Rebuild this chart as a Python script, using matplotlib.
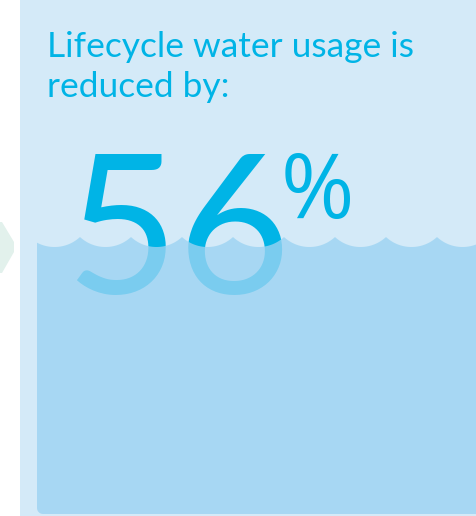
import numpy as np
import matplotlib
matplotlib.use("Agg")
import matplotlib.pyplot as plt
from matplotlib.patches import Polygon, Rectangle

# ---- data ----
title_lines = ["Lifecycle water usage is", "reduced by:"]
value = 56
value_suffix = "%"

# ---- style ----
W, H = 477, 516
bg_panel = "#d4eaf8"
water_col = "#9cd3f2"
water_alpha = 0.79
text_col = "#00b4e6"
arrow_col = "#e2f1ec"

fig = plt.figure(figsize=(W / 100, H / 100), dpi=100)
ax = fig.add_axes([0, 0, 1, 1])
ax.set_xlim(0, W)
ax.set_ylim(H, 0)
ax.axis("off")

# left decorative chevron
ax.add_patch(Polygon([[-10, 222], [2, 222], [14, 242], [14, 252], [2, 273], [-10, 273]],
                     closed=True, facecolor=arrow_col, edgecolor="none", zorder=1))
# panel
ax.add_patch(Rectangle((20, 0), W - 20, H, facecolor=bg_panel, edgecolor="none", zorder=1))

# title
for i, line in enumerate(title_lines):
    ax.text(47, 57 + 40 * i, line, fontsize=25.5, family="Lato", color=text_col,
            ha="left", va="baseline", zorder=3)

# big number
ax.text(65, 293, str(value), fontsize=140, family="Lato", fontweight="normal",
        color=text_col, ha="left", va="baseline", zorder=3)
ax.text(281, 218, value_suffix, fontsize=64, family="Open Sans", fontweight="normal",
        color=text_col, ha="left", va="baseline", zorder=3)

# water with scalloped top
x0, x1, ybot = 37, W, 514
period = 51.0
first_crest = 80.0
sag = 10.0
ytrough = 247.0
r = ((period / 2) ** 2 + sag ** 2) / (2 * sag)
yc = ytrough - r
xs = np.linspace(x0, x1, 800)
k = np.floor((xs - first_crest) / period)
xm = first_crest + (k + 0.5) * period
ys = yc + np.sqrt(np.clip(r ** 2 - (xs - xm) ** 2, 0, None))
rad = 6
cx, cy = x0 + rad, ybot - rad
corner_pts = [[cx + rad * np.cos(t), cy + rad * np.sin(t)] for t in np.linspace(np.pi / 2, np.pi, 10)]
pts = list(zip(xs, ys)) + [[x1, ybot]] + corner_pts + [[x0, ys[0]]]
ax.add_patch(Polygon(pts, closed=True, facecolor=water_col, alpha=water_alpha,
                     edgecolor="none", zorder=4))

fig.savefig("out.png", dpi=100, facecolor="white")
